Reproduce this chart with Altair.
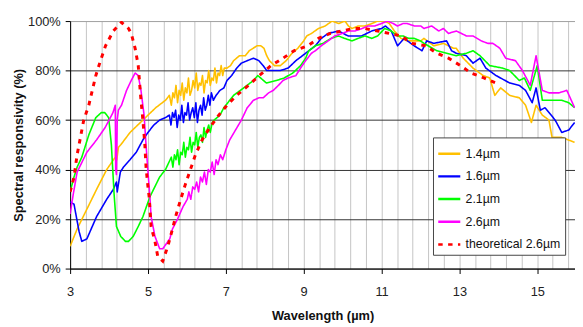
import altair as alt
import pandas as pd

SERIES = ["1.4µm", "1.6µm", "2.1µm", "2.6µm", "theoretical 2.6µm"]
COLORS = ["#FFC000", "#0000FF", "#00FF00", "#FF00FF", "#FF0000"]
DASHES = [[1, 0], [1, 0], [1, 0], [1, 0], [4.5, 5.5]]

X_TICKS = [3, 5, 7, 9, 11, 13, 15]
X_GRID = [3.0, 3.4, 3.8, 4.2, 4.6, 5.0, 5.4, 5.8, 6.2, 6.6, 7.0, 7.4, 7.8, 8.2, 8.6,
          9.0, 9.4, 9.8, 10.2, 10.6, 11.0, 11.4, 11.8, 12.2, 12.6, 13.0, 13.4, 13.8,
          14.2, 14.6, 15.0, 15.4, 15.8]
Y_TICKS = [0, 20, 40, 60, 80, 100]

# (wavelength µm, responsivity %)
s14 = [(3.0, 9), (3.18, 16), (3.43, 24), (3.68, 32), (3.94, 40), (4.16, 45), (4.18, 52), (4.2, 44),
       (4.24, 49), (4.3, 50), (4.54, 55), (4.87, 60), (5.2, 65), (5.45, 68), (5.55, 70), (5.6, 66),
       (5.64, 71), (5.68, 69), (5.72, 74), (5.76, 67), (5.8, 72), (5.84, 70), (5.88, 75), (5.92, 68),
       (5.96, 73), (6.0, 71), (6.04, 77), (6.08, 70), (6.12, 72), (6.16, 76), (6.2, 73), (6.24, 79),
       (6.28, 72), (6.32, 75), (6.36, 74), (6.4, 78), (6.44, 71), (6.48, 76), (6.52, 75), (6.56, 80),
       (6.6, 74), (6.64, 77), (6.68, 76), (6.72, 81), (6.76, 75), (6.8, 79), (6.84, 78), (6.88, 82),
       (6.92, 78), (6.96, 81), (7.03, 81), (7.12, 82), (7.2, 84), (7.35, 86), (7.5, 86),
       (7.6, 88), (7.7, 89), (7.8, 90), (7.9, 90), (7.98, 89), (8.05, 86), (8.12, 84), (8.25, 82),
       (8.4, 82), (8.55, 84), (8.7, 87), (8.85, 89), (9.0, 92), (9.08, 94), (9.2, 95), (9.38, 97),
       (9.55, 98), (9.73, 100), (9.9, 99), (10.06, 100), (10.15, 98), (10.24, 97), (10.4, 98),
       (10.57, 98), (10.75, 99), (10.9, 100), (11.08, 100), (11.2, 99), (11.33, 96), (11.5, 93),
       (11.66, 92), (11.85, 92), (12.01, 92), (12.09, 93), (12.34, 90), (12.59, 91), (12.85, 89),
       (12.92, 89), (13.1, 85), (13.35, 81), (13.61, 78), (13.78, 77), (13.91, 70), (14.06, 73),
       (14.29, 70), (14.54, 69), (14.7, 66), (14.85, 59), (14.97, 66), (15.13, 62), (15.3, 60),
       (15.38, 53), (15.63, 53), (15.96, 51)]

s16 = [(3.0, 27), (3.1, 26), (3.23, 15), (3.3, 11), (3.43, 12), (3.68, 21), (3.94, 28), (4.11, 32),
       (4.19, 35), (4.21, 31), (4.29, 39), (4.37, 41), (4.54, 44), (4.7, 47), (4.87, 52), (5.0, 55),
       (5.15, 58), (5.3, 60), (5.45, 61), (5.55, 62), (5.59, 58), (5.63, 63), (5.67, 61), (5.71, 64),
       (5.75, 57), (5.79, 62), (5.83, 60), (5.87, 66), (5.91, 59), (5.95, 63), (5.99, 62), (6.03, 67),
       (6.07, 60), (6.11, 63), (6.15, 65), (6.19, 61), (6.23, 67), (6.27, 59), (6.31, 64), (6.35, 66),
       (6.39, 62), (6.43, 69), (6.47, 64), (6.51, 66), (6.55, 70), (6.59, 66), (6.63, 71), (6.68, 68),
       (6.75, 70), (6.85, 72), (6.95, 73), (7.03, 76), (7.15, 78), (7.28, 81),
       (7.4, 83), (7.55, 84), (7.71, 85), (7.85, 84), (7.96, 82), (8.05, 80), (8.2, 80), (8.4, 80),
       (8.6, 81), (8.8, 84), (9.05, 87), (9.3, 90), (9.45, 93), (9.63, 95), (9.89, 96), (10.14, 94),
       (10.32, 94), (10.49, 94), (10.75, 96), (11.0, 97), (11.1, 98), (11.25, 96), (11.41, 90),
       (11.58, 93), (11.84, 90), (12.04, 88), (12.16, 92), (12.34, 91), (12.67, 92), (12.8, 88),
       (12.92, 87), (13.18, 86), (13.35, 83), (13.53, 85), (13.68, 81), (13.94, 78), (14.29, 75),
       (14.54, 74), (14.7, 72), (14.87, 67), (14.97, 73), (15.08, 64), (15.2, 65), (15.46, 60),
       (15.63, 55), (15.81, 56), (15.96, 59)]

s21 = [(3.0, 31), (3.1, 37), (3.18, 41), (3.3, 45), (3.48, 54), (3.66, 61), (3.8, 63), (3.89, 63),
       (3.99, 61), (4.06, 50), (4.13, 30), (4.19, 17), (4.3, 13), (4.42, 11), (4.5, 11), (4.62, 13),
       (4.75, 17), (4.87, 21), (5.05, 29), (5.3, 37), (5.45, 40), (5.6, 45), (5.64, 41), (5.68, 46),
       (5.72, 44), (5.76, 48), (5.8, 42), (5.84, 47), (5.88, 46), (5.92, 51), (5.96, 45), (6.0, 49),
       (6.04, 48), (6.08, 53), (6.12, 47), (6.16, 51), (6.2, 50), (6.24, 55), (6.28, 49), (6.32, 53),
       (6.36, 54), (6.4, 51), (6.44, 57), (6.48, 53), (6.52, 56), (6.56, 58), (6.6, 55), (6.65, 59),
       (6.7, 60), (6.85, 62), (6.95, 65), (7.2, 70), (7.46, 73), (7.71, 76),
       (7.82, 78), (8.04, 75), (8.3, 76), (8.5, 77), (8.72, 79), (8.92, 82), (9.05, 85), (9.13, 88),
       (9.3, 90), (9.5, 91), (9.7, 93), (9.89, 94), (10.05, 93), (10.24, 92), (10.4, 93), (10.57, 94),
       (10.75, 93), (10.9, 94), (11.08, 97), (11.25, 96), (11.4, 94), (11.55, 94), (11.7, 93),
       (11.84, 93), (12.0, 92), (12.09, 91), (12.42, 88), (12.92, 86), (13.18, 87), (13.35, 88),
       (13.53, 86), (13.78, 82), (14.11, 81), (14.29, 80), (14.54, 76), (14.67, 77), (14.82, 72),
       (15.0, 82), (15.13, 68), (15.3, 68), (15.63, 68), (15.81, 67), (15.96, 65)]

s26 = [(3.0, 22), (3.08, 30), (3.18, 39), (3.43, 47), (3.68, 52), (3.9, 57), (4.1, 63), (4.16, 66),
       (4.17, 40), (4.19, 38), (4.21, 60), (4.24, 64), (4.32, 66), (4.45, 72), (4.57, 76), (4.67, 79),
       (4.75, 78), (4.82, 72), (4.9, 62), (4.95, 50), (5.0, 39), (5.05, 29), (5.08, 21), (5.18, 13),
       (5.3, 8), (5.38, 8), (5.56, 12), (5.63, 16), (5.76, 20), (5.9, 25), (6.01, 28), (6.05, 31),
       (6.1, 28), (6.15, 33), (6.2, 32), (6.25, 35), (6.3, 31), (6.35, 37), (6.4, 35), (6.45, 39),
       (6.5, 34), (6.55, 40), (6.6, 39), (6.65, 43), (6.7, 38), (6.75, 44), (6.8, 42), (6.86, 46),
       (6.92, 44), (7.0, 48), (7.1, 52), (7.25, 56), (7.4, 60), (7.55, 65), (7.71, 68), (7.85, 69),
       (7.96, 69), (8.1, 71), (8.22, 72), (8.35, 74), (8.47, 76), (8.6, 77), (8.8, 78), (8.92, 81),
       (9.05, 84), (9.2, 87), (9.3, 88), (9.45, 90), (9.63, 92), (9.8, 94), (9.99, 95), (10.15, 96),
       (10.32, 96), (10.5, 97), (10.65, 98), (10.82, 98), (11.0, 99), (11.15, 100), (11.3, 99),
       (11.41, 98), (11.55, 99), (11.66, 99), (11.85, 98), (12.01, 98), (12.09, 97), (12.29, 98),
       (12.47, 96), (12.59, 97), (12.72, 95), (12.92, 96), (13.18, 94), (13.35, 94), (13.56, 92),
       (13.73, 91), (13.86, 91), (14.04, 89), (14.19, 85), (14.44, 84), (14.62, 80), (14.82, 74),
       (14.97, 86), (15.13, 72), (15.3, 71), (15.56, 71), (15.76, 72), (15.96, 65)]

s26t = [(3.0, 31), (3.1, 37), (3.18, 46), (3.35, 60), (3.48, 66), (3.66, 78), (3.78, 84), (3.91, 90),
        (4.11, 96), (4.32, 99.5), (4.5, 97), (4.57, 95), (4.67, 89), (4.75, 82), (4.82, 68),
        (4.87, 60), (4.92, 50), (4.95, 41), (5.0, 33), (5.03, 29), (5.08, 17), (5.18, 11), (5.25, 5),
        (5.38, 3), (5.51, 9), (5.63, 16), (5.71, 21), (5.84, 28), (5.96, 34), (6.09, 40), (6.22, 46),
        (6.39, 52), (6.59, 57), (6.82, 62), (7.03, 66), (7.28, 70), (7.58, 74), (7.86, 78),
        (8.16, 82), (8.47, 85), (8.75, 88), (9.1, 90), (9.38, 93), (9.68, 95), (9.99, 96),
        (10.27, 97), (10.57, 97), (10.9, 96), (11.2, 95), (11.51, 94), (11.78, 91), (12.14, 90),
        (12.42, 87), (12.72, 85), (13.03, 82), (13.3, 79), (13.63, 77), (13.94, 75)]

rows = []
for name, pts in zip(SERIES, [s14, s16, s21, s26, s26t]):
    for i, (w, r) in enumerate(pts):
        rows.append({"series": name, "wl": w, "resp": r, "idx": i,
                     "kind": "theory" if name.startswith("theoretical") else "measured"})
df = pd.DataFrame(rows)

FONT = "Liberation Sans"
major = "abs((datum.value - 3) / 2 - round((datum.value - 3) / 2)) < 0.01"

x_axis = alt.Axis(
    values=X_GRID, grid=True, gridColor="#c4c4c4", gridWidth=1,
    labelExpr=f"({major}) ? format(datum.value, 'd') : ''", labelOverlap=False, labelFlush=False,
    tickOpacity={"condition": {"test": major, "value": 1}, "value": 0},
    tickSize=5, tickColor="#000000", domainColor="#000000", domainWidth=1,
    labelFont=FONT, labelFontSize=13, labelColor="#222222", labelPadding=12,
    titleFont=FONT, titleFontSize=13, titleFontWeight="bold", titleColor="#111111",
    titlePadding=12,
)
y_axis = alt.Axis(
    values=Y_TICKS, labelExpr="datum.value + '%'", grid=True,
    gridColor={"condition": {"test": "datum.value == 100", "value": "#a0a0a0"}, "value": "#333333"},
    tickSize=5, tickColor="#000000", domainColor="#000000", domainWidth=1,
    labelFont=FONT, labelFontSize=13, labelColor="#222222", labelPadding=5,
    titleFont=FONT, titleFontSize=13, titleFontWeight="bold", titleColor="#111111",
    titlePadding=2,
)
legend = alt.Legend(
    orient="none", legendX=368, legendY=118, fillColor="#ffffff", strokeColor="#444444",
    padding=4, symbolType="stroke", symbolSize=500, symbolStrokeWidth=2.5, rowPadding=4,
    labelOffset=4, labelFont=FONT, labelFontSize=12.5, labelColor="#111111", cornerRadius=0,
)

x_enc = alt.X("wl:Q", title="Wavelength (µm)",
              scale=alt.Scale(domain=[3, 15.97], nice=False, zero=False), axis=x_axis)
y_enc = alt.Y("resp:Q", title="Spectral responsivity (%)",
              scale=alt.Scale(domain=[0, 100], nice=False), axis=y_axis)
c_enc = alt.Color("series:N", title=None, scale=alt.Scale(domain=SERIES, range=COLORS), legend=legend)
d_enc = alt.StrokeDash("series:N", title=None, scale=alt.Scale(domain=SERIES, range=DASHES), legend=legend)

base = alt.Chart(df).encode(x=x_enc, y=y_enc, color=c_enc, strokeDash=d_enc, order="idx:Q")

measured = base.transform_filter("datum.kind == 'measured'").mark_line(
    interpolate="linear", strokeJoin="round", strokeWidth=1.6, clip=True)
theory = base.transform_filter("datum.kind == 'theory'").mark_line(
    interpolate="linear", strokeWidth=3, strokeCap="butt", clip=True)

chart = alt.layer(measured, theory).properties(
    width=512, height=251, autosize="none",
    padding={"left": 63, "top": 11, "right": 0, "bottom": 57},
    background="#ffffff",
).configure_view(strokeOpacity=0)

chart.save("out.html", embed_options={"renderer": "svg", "actions": False})
